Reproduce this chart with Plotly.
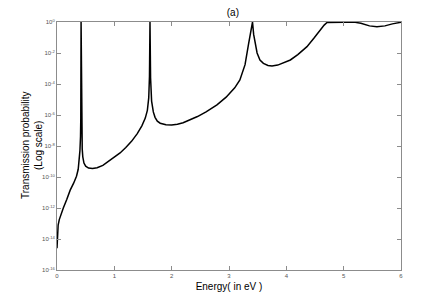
import plotly.graph_objects as go

# Energy (eV) and log10 of transmission probability
energy = [0.0, 0.005, 0.01, 0.02, 0.04, 0.07, 0.11, 0.17, 0.23, 0.29, 0.34, 0.37, 0.39,
          0.40, 0.41, 0.415, 0.42, 0.425, 0.432, 0.44, 0.45, 0.47, 0.50, 0.55, 0.62, 0.70,
          0.80, 0.90, 1.0, 1.1, 1.2, 1.3, 1.4, 1.48, 1.54, 1.576, 1.60, 1.613,
          1.622, 1.632, 1.65, 1.68, 1.71, 1.75, 1.80, 1.9, 2.0, 2.1, 2.2, 2.3, 2.45, 2.6,
          2.79, 2.95, 3.1, 3.19, 3.28, 3.34, 3.38, 3.41, 3.43, 3.455, 3.49, 3.54,
          3.60, 3.68, 3.75, 3.85, 3.95, 4.07, 4.2, 4.36, 4.48, 4.59, 4.66, 4.71,
          4.8, 5.0, 5.2, 5.3, 5.45, 5.58, 5.72, 5.85, 6.0]
log_t = [-14.6, -13.9, -13.5, -13.1, -12.75, -12.4, -12.0, -11.45, -10.85, -10.4, -9.95, -9.5, -8.9,
         -8.3, -7.4, -6.2, 0.0, -5.6, -7.4, -8.2, -8.7, -9.1, -9.3, -9.42, -9.45, -9.4,
         -9.25, -9.0, -8.75, -8.45, -8.1, -7.7, -7.2, -6.7, -6.2, -5.7, -4.9, -3.5,
         0.0, -3.6, -5.1, -5.8, -6.15, -6.4, -6.53, -6.63, -6.65, -6.6, -6.5, -6.35, -6.1, -5.8,
         -5.35, -4.85, -4.25, -3.74, -2.75, -1.45, -0.6, 0.0, -0.8, -1.38, -2.0, -2.45,
         -2.67, -2.8, -2.84, -2.78, -2.65, -2.45, -2.1, -1.59, -1.05, -0.52, -0.2, -0.03,
         -0.01, -0.01, -0.02, -0.08, -0.25, -0.3, -0.25, -0.12, -0.02]
transmission = [10 ** v for v in log_t]

y_tick_exps = [0, -2, -4, -6, -8, -10, -12, -14, -16]
x_tick_vals = [0, 1, 2, 3, 4, 5, 6]

font_family = "Liberation Sans, Arial, sans-serif"
axis_color = "#8c8c8c"

fig = go.Figure()
fig.add_trace(go.Scatter(
    x=energy, y=transmission, mode="lines",
    line=dict(color="black", width=1.5),
    showlegend=False,
))

fig.update_layout(
    width=435, height=297,
    margin=dict(l=49, r=42, t=14, b=35, autoexpand=False),
    paper_bgcolor="white", plot_bgcolor="white",
    font=dict(family=font_family, color="black"),
    title=dict(text="(a)", x=0.517, xanchor="center", y=0.984, yanchor="middle",
               font=dict(size=10, family=font_family), automargin=False),
)

fig.update_xaxes(
    range=[0, 6], tickvals=x_tick_vals, ticktext=[str(v) for v in x_tick_vals],
    ticks="inside", ticklen=4, tickcolor=axis_color, tickwidth=1,
    showline=True, linecolor=axis_color, linewidth=1, mirror="ticks",
    showgrid=False, zeroline=False, automargin=False,
    tickfont=dict(size=6, color="#555555"),
    title=dict(text="Energy( in eV )", font=dict(size=10), standoff=4),
)

fig.update_yaxes(
    type="log", range=[-16, 0],
    tickvals=[10 ** e for e in y_tick_exps],
    ticktext=["10<sup>%d</sup>" % e for e in y_tick_exps],
    ticks="inside", ticklen=4, tickcolor=axis_color, tickwidth=1,
    showline=True, linecolor=axis_color, linewidth=1, mirror="ticks",
    showgrid=False, zeroline=False, automargin=False,
    tickfont=dict(size=6, color="#555555"),
)

fig.add_annotation(
    text="Transmission probability<br>(Log scale)",
    xref="paper", yref="paper", x=0, y=0.5,
    xanchor="center", yanchor="middle", xshift=-25,
    textangle=-90, showarrow=False,
    font=dict(size=10, family=font_family, color="black"),
)

fig.write_html("out.html")
